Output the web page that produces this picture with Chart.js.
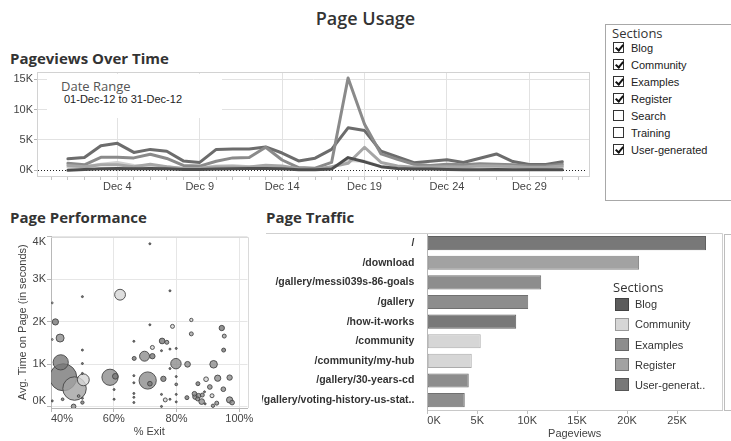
<!DOCTYPE html>
<html lang="en">
<head>
<meta charset="utf-8">
<title>Page Usage</title>
<script src="https://cdn.jsdelivr.net/npm/chart.js@4.4.1/dist/chart.umd.min.js"></script>
<style>
  html, body { margin:0; padding:0; background:#fff; }
  body { position:relative; width:731px; height:441px; overflow:hidden; font-family:"Liberation Sans", Arial, sans-serif; color:#333; }
  .abs { position:absolute; }
  canvas { position:absolute; display:block; }
  #pageTitle { left:0; top:6px; width:731px; text-align:center; font:600 18px/24px "Open Sans", sans-serif; color:#333; }
  .head { position:absolute; font:700 15px/18px "Open Sans", sans-serif; color:#333; white-space:nowrap; }
  #dateRange { left:47px; top:74px; width:175px; height:44px; background:#fff; z-index:2; }
  #dateRange .big { position:absolute; left:14px; top:3px; font:13px/18px "Open Sans", sans-serif; color:#555; white-space:nowrap; }
  #dateRange .small { position:absolute; left:17px; top:18px; font:11px/14px "Liberation Sans", Arial, sans-serif; color:#222; white-space:nowrap; }
  #filter { left:605px; top:24px; width:140px; height:177px; border:1px solid #a8a8a8; box-sizing:border-box; background:#fff; }
  #filter .ttl { position:absolute; left:6px; top:0px; font:13px/16px "Open Sans", sans-serif; color:#333; }
  .frow { position:absolute; left:0; height:16px; width:130px; font:11px/16px "Liberation Sans", Arial, sans-serif; color:#222; white-space:nowrap; }
  .cb { position:absolute; left:7px; top:2.5px; width:11px; height:11px; border:1px solid #333; box-sizing:border-box; background:#fff; }
  .cb.on::after { content:""; position:absolute; left:2.5px; top:0px; width:3px; height:6px; border:solid #111; border-width:0 2px 2px 0; transform:rotate(40deg); }
  .frow .lbl { position:absolute; left:25px; top:0; }
  #barLegend { left:613px; top:279px; width:118px; height:120px; }
  #barLegend .ttl { position:absolute; left:0; top:0; font:13px/16px "Open Sans", sans-serif; color:#333; }
  .lrow { position:absolute; left:0; height:16px; font:11px/16px "Liberation Sans", Arial, sans-serif; color:#333; white-space:nowrap; }
  .sw { position:absolute; left:2px; top:1.5px; width:14px; height:13px; box-sizing:border-box; border:1px solid #666; }
  .lrow .lbl { position:absolute; left:22px; top:0; }
</style>
</head>
<body>
<div id="pageTitle" class="abs">Page Usage</div>

<div class="head" style="left:10px; top:49px;">Pageviews Over Time</div>
<canvas id="lineChart" width="600" height="136" style="left:0; top:64px;"></canvas>
<div id="dateRange" class="abs">
  <div class="big">Date Range</div>
  <div class="small">01-Dec-12 to 31-Dec-12</div>
</div>

<div id="filter" class="abs">
  <div class="ttl">Sections</div>
</div>

<div class="head" style="left:10px; top:208px;">Page Performance</div>
<canvas id="scatterChart" width="262" height="219" style="left:0; top:222px;"></canvas>

<div class="head" style="left:266px; top:208px;">Page Traffic</div>
<canvas id="barChart" width="469" height="219" style="left:262px; top:222px;"></canvas>
<div id="barLegend" class="abs">
  <div class="ttl">Sections</div>
</div>

<script>
// ---- Daily pageviews per section, December 2012 ----
const dayNumbers = [1, 2, 3, 4, 5, 6, 7, 8, 9, 10, 11, 12, 13, 14, 15, 16, 17, 18, 19, 20, 21, 22, 23, 24, 25, 26, 27, 28, 29, 30, 31];
const dateTickDays = [4, 9, 14, 19, 24, 29];
const blogDaily      = [0, 150, 250, 300, 250, 300, 250, 150, 150, 200, 250, 300, 300, 250, 100, 100, 200, 2100, 1400, 600, 300, 200, 200, 150, 100, 100, 150, 100, 100, 100, 100];
const communityDaily = [500, 600, 1000, 1300, 800, 700, 600, 300, 400, 700, 800, 600, 700, 600, 300, 300, 500, 1600, 1500, 600, 500, 400, 400, 450, 450, 450, 500, 450, 350, 350, 450];
const examplesDaily  = [1150, 900, 2150, 2150, 2050, 2650, 1950, 800, 700, 1500, 2050, 2100, 3800, 1700, 450, 350, 1300, 15200, 7600, 2700, 1800, 1000, 800, 1000, 900, 1100, 1000, 900, 700, 700, 1000];
const registerDaily  = [800, 600, 900, 900, 600, 1000, 600, 300, 350, 600, 600, 550, 850, 700, 250, 150, 600, 1150, 3800, 1300, 700, 500, 550, 600, 550, 750, 700, 650, 450, 500, 700];
const userGenDaily   = [1900, 2100, 4050, 4450, 2950, 3450, 3150, 1550, 1300, 3450, 3500, 3500, 3850, 2850, 1550, 2000, 3450, 7000, 6550, 3150, 2200, 1250, 1500, 1750, 1300, 2000, 2700, 1450, 950, 950, 1400];
const dailyYTicks = [0, 5000, 10000, 15000];

// ---- Section filter ----
const filterSections = ['Blog', 'Community', 'Examples', 'Register', 'Search', 'Training', 'User-generated'];
const filterChecked  = [true, true, true, true, false, false, true];
const legendSections = ['Blog', 'Community', 'Examples', 'Register', 'User-generated'];
const legendLabels   = ['Blog', 'Community', 'Examples', 'Register', 'User-generat..'];

// ---- Top pages ----
const pagePaths = ['/', '/download', '/gallery/messi039s-86-goals', '/gallery', '/how-it-works', '/community', '/community/my-hub', '/gallery/30-years-cd', '/gallery/voting-history-us-stat..'];
const pageViewsTotal = [27900, 21200, 11400, 10100, 8900, 5350, 4450, 4150, 3750];
const pageSection = ['User-generated', 'Register', 'Examples', 'Examples', 'User-generated', 'Community', 'Community', 'Examples', 'Examples'];
const trafficXTicks = [0, 5000, 10000, 15000, 20000, 25000];

// ---- Page performance: % exit, avg. time on page (s), pageviews, section ----
const exitRate = [43.9, 47.5, 70.8, 58.8, 43.1, 50.3, 62.0, 79.8, 69.8, 42.9,
                  91.8, 41.4, 93.1, 96.9, 75.4, 83.5, 88.0, 60.5, 94.4, 75.8,
                  96.9, 72.3, 86.0, 47.2, 90.6, 94.9, 97.7, 85.7, 87.0, 71.5,
                  89.4, 78.7, 84.7, 84.7, 95.2, 76.9, 72.3, 95.0, 66.5, 86.8,
                  83.3, 88.2, 86.7, 91.3, 92.8, 76.4, 91.6, 50.0, 79.9, 43.7,
                  48.8, 71.5, 50.0, 77.9, 71.5, 66.4, 50.0, 77.9, 79.9, 75.2,
                  50.0, 77.9, 79.9, 50.0, 66.4, 66.4, 60.1, 66.4, 66.4, 60.1,
                  75.2, 77.9, 79.9, 79.9, 89.1, 75.2, 88.9, 40.4, 50.0, 66.4,
                  40.4, 40.4];
const avgTimeOnPage = [692, 427, 616, 692, 1043, 632, 2632, 1012, 1187, 1614,
                       997, 1993, 670, 160, 1545, 997, 121, 715, 1849, 655,
                       685, 1187, 235, 7, 464, 411, 98, 304, 258, 541,
                       646, 1888, 2039, 1712, 1660, 1514, 1393, 1331, 1135, 541,
                       213, 274, 183, 258, 84, 160, 23, 99, 525, 175,
                       251, 3829, 2587, 2724, 1925, 1537, 1331, 1354, 1370, 1317,
                       1015, 897, 708, 783, 730, 563, 404, 312, 221, 175,
                       290, 175, 290, 114, 68, 7, 350, 137, 198, 99,
                       1580, 2440];
const pointPageviews = [28000, 21200, 11400, 10100, 8900, 5400, 4500, 4200, 3800, 2450,
                        2200, 1500, 1500, 1500, 1250, 1250, 1250, 1250, 1100, 1100,
                        1100, 1100, 1100, 840, 840, 840, 840, 840, 840, 840,
                        840, 610, 430, 610, 610, 610, 610, 610, 610, 610,
                        610, 610, 610, 610, 610, 610, 430, 430, 280, 280,
                        280, 150, 150, 150, 150, 150, 150, 150, 150, 150,
                        150, 150, 150, 150, 150, 150, 150, 150, 150, 150,
                        150, 150, 150, 150, 150, 150, 150, 150, 150, 150,
                        120, 120];
const pointSection = ['User-generated', 'Register', 'Examples', 'Examples', 'User-generated', 'Community', 'Community', 'Examples', 'Examples', 'Examples',
                      'Examples', 'User-generated', 'Examples', 'Examples', 'User-generated', 'Examples', 'Examples', 'User-generated', 'User-generated', 'User-generated',
                      'Examples', 'User-generated', 'Examples', 'Examples', 'Examples', 'Examples', 'Examples', 'Examples', 'Examples', 'User-generated',
                      'Community', 'Community', 'Community', 'Register', 'Register', 'Examples', 'Community', 'User-generated', 'User-generated', 'User-generated',
                      'User-generated', 'Examples', 'Examples', 'Community', 'Examples', 'Community', 'Examples', 'User-generated', 'User-generated', 'User-generated',
                      'Examples', 'Blog', 'Blog', 'Blog', 'Blog', 'Blog', 'Blog', 'Blog', 'Blog', 'Blog',
                      'Blog', 'Blog', 'Blog', 'Blog', 'Blog', 'Blog', 'Blog', 'Blog', 'Blog', 'Blog',
                      'Blog', 'Blog', 'Blog', 'Blog', 'Blog', 'Blog', 'Blog', 'Blog', 'Blog', 'Blog',
                      'Community', 'Community'];
const exitTicks = [40, 60, 80, 100];
const timeTicks = [0, 1000, 2000, 3000, 4000];

// ---- Styling ----
const sectionColors = {
  'Blog': '#5c5c5c',
  'Community': '#d6d6d6',
  'Examples': '#8d8d8d',
  'Register': '#a2a2a2',
  'User-generated': '#787878'
};
const lineColors = {
  'Blog': '#4e4e4e',
  'Community': '#d0d0d0',
  'Examples': '#8a8a8a',
  'Register': '#a6a6a6',
  'User-generated': '#6c6c6c'
};

function withAlpha(hex, a) {
  const n = parseInt(hex.slice(1), 16);
  return `rgba(${n >> 16},${(n >> 8) & 255},${n & 255},${a})`;
}
function shade(hex, f) {
  const n = parseInt(hex.slice(1), 16);
  const c = [n >> 16, (n >> 8) & 255, n & 255].map(v => Math.round(v * f));
  return `rgb(${c[0]},${c[1]},${c[2]})`;
}
const kLabel = v => (v / 1000) + 'K';
const fixedTicks = values => scale => { scale.ticks = values.map(v => ({ value: v })); };

Chart.defaults.font.family = '"Liberation Sans", Arial, sans-serif';
Chart.defaults.font.size = 11;
Chart.defaults.color = '#444';

// Tableau-style edge labels: pull the first/last tick labels inside the pane.
function edgeLabels(cfg) {
  return {
    id: 'edgeLabels',
    beforeDraw(chart) {
      for (const id in cfg) {
        const scale = chart.scales[id];
        const items = scale.getLabelItems();
        if (!items.length) continue;
        const c = cfg[id];
        const first = items[0].options, last = items[items.length - 1].options;
        if (c.firstAlign) first.textAlign = c.firstAlign;
        if (c.firstBaseline) first.textBaseline = c.firstBaseline;
        if (c.lastBaseline) last.textBaseline = c.lastBaseline;
      }
    }
  };
}
function paneDecor(draw) {
  return {
    id: 'paneDecor',
    beforeDatasetsDraw(chart) {
      const ctx = chart.ctx;
      ctx.save();
      draw(ctx, chart.chartArea, chart);
      ctx.restore();
    }
  };
}
const px = v => Math.round(v) + 0.5;

// ---- Filter box and legend ----
const filterBox = document.getElementById('filter');
filterSections.forEach((name, i) => {
  const row = document.createElement('div');
  row.className = 'frow';
  row.style.top = (14.6 + 17.05 * i) + 'px';
  row.innerHTML = `<span class="cb${filterChecked[i] ? ' on' : ''}"></span><span class="lbl">${name}</span>`;
  filterBox.appendChild(row);
});
const legendBox = document.getElementById('barLegend');
legendSections.forEach((name, i) => {
  const row = document.createElement('div');
  row.className = 'lrow';
  row.style.top = (17.3 + 20.15 * i) + 'px';
  const c = sectionColors[name];
  row.innerHTML = `<span class="sw" style="background:${c};border-color:${shade(c, 0.72)}"></span><span class="lbl">${legendLabels[i]}</span>`;
  legendBox.appendChild(row);
});

// ---- Pageviews over time ----
const dailySeries = [
  ['Blog', blogDaily],
  ['Register', registerDaily],
  ['Examples', examplesDaily],
  ['User-generated', userGenDaily],
  ['Community', communityDaily]
];
new Chart(document.getElementById('lineChart'), {
  type: 'line',
  data: {
    datasets: dailySeries.map(([name, values]) => ({
      label: name,
      data: dayNumbers.map((d, i) => ({ x: d, y: values[i] })),
      borderColor: lineColors[name],
      borderWidth: 3,
      borderJoinStyle: 'round',
      borderCapStyle: 'round',
      pointRadius: 0,
      tension: 0,
      fill: false
    }))
  },
  options: {
    responsive: false,
    animation: false,
    devicePixelRatio: 1,
    events: [],
    layout: { padding: { left: 0, right: 10, top: 8, bottom: 0 } },
    plugins: { legend: { display: false }, tooltip: { enabled: false } },
    scales: {
      x: {
        type: 'linear',
        min: -0.875,
        max: 32.68,
        afterFit: s => { s.height = 23; },
        border: { display: false },
        grid: {
          color: c => (c.tick && dateTickDays.includes(c.tick.value)) ? '#e2e2e2' : 'rgba(0,0,0,0)',
          tickColor: '#c4c4c4',
          tickLength: 3
        },
        ticks: {
          stepSize: 1,
          autoSkip: false,
          includeBounds: false,
          maxRotation: 0,
          padding: 0,
          color: '#444',
          callback: v => dateTickDays.includes(v) ? 'Dec ' + v : ''
        }
      },
      y: {
        min: -1100,
        max: 16200,
        afterBuildTicks: fixedTicks(dailyYTicks),
        afterFit: s => { s.width = 37; },
        border: { display: false },
        grid: {
          color: c => (c.tick && c.tick.value === 0) ? 'rgba(0,0,0,0)' : '#e2e2e2',
          tickColor: '#b4b4b4',
          tickLength: 3
        },
        ticks: { padding: 1, color: '#444', callback: kLabel }
      }
    }
  },
  plugins: [paneDecor((ctx, a, chart) => {
    ctx.strokeStyle = '#d2d2d2';
    ctx.lineWidth = 1;
    ctx.strokeRect(px(a.left), px(a.top), Math.round(a.right - a.left) - 1, Math.round(a.bottom - a.top) - 1);
    const y0 = px(chart.scales.y.getPixelForValue(0));
    ctx.strokeStyle = '#222';
    ctx.setLineDash([1, 2]);
    ctx.beginPath();
    ctx.moveTo(a.left + 1, y0);
    ctx.lineTo(a.right - 3, y0);
    ctx.stroke();
  })]
});

// ---- Page performance (bubbles, largest drawn first) ----
const bubbleRadius = pv => 13.5 * Math.sqrt(pv / 28000);
const drawOrder = exitRate.map((_, i) => i).sort((a, b) => pointPageviews[b] - pointPageviews[a]);
new Chart(document.getElementById('scatterChart'), {
  type: 'bubble',
  data: {
    datasets: [{
      data: drawOrder.map(i => ({ x: exitRate[i], y: avgTimeOnPage[i], r: bubbleRadius(pointPageviews[i]) })),
      backgroundColor: drawOrder.map(i => withAlpha(sectionColors[pointSection[i]], 0.8)),
      borderColor: 'rgba(70,70,70,0.9)',
      borderWidth: 1,
      clip: 0
    }]
  },
  options: {
    responsive: false,
    animation: false,
    devicePixelRatio: 1,
    events: [],
    layout: { padding: { left: 0, right: 6, top: 10, bottom: 0 } },
    plugins: { legend: { display: false }, tooltip: { enabled: false } },
    scales: {
      x: {
        type: 'linear',
        min: 40,
        max: 102.6,
        afterBuildTicks: fixedTicks(exitTicks),
        afterFit: s => { s.height = 33; },
        border: { color: '#b8b8b8' },
        grid: { color: '#e6e6e6', tickColor: '#b8b8b8', tickLength: 4 },
        ticks: { maxRotation: 0, padding: 0, color: '#444', callback: v => v + '%' },
        title: { display: true, text: '% Exit', color: '#444', font: { size: 11 }, padding: { top: 0, bottom: 2 } }
      },
      y: {
        min: -30,
        max: 4000,
        afterBuildTicks: fixedTicks(timeTicks),
        afterFit: s => { s.width = 51; },
        border: { color: '#b8b8b8' },
        grid: { color: '#e6e6e6', tickColor: '#b8b8b8', tickLength: 4 },
        ticks: { padding: 1, color: '#444', callback: kLabel },
        title: { display: true, text: 'Avg. Time on Page (in seconds)', color: '#444', font: { size: 11 }, padding: { top: 16, bottom: 0 } }
      }
    }
  },
  plugins: [
    edgeLabels({ x: { firstAlign: 'left' }, y: { firstBaseline: 'bottom', lastBaseline: 'top' } }),
    paneDecor((ctx, a) => {
      ctx.strokeStyle = '#dadada';
      ctx.lineWidth = 1;
      ctx.beginPath();
      ctx.moveTo(a.left, px(a.top));
      ctx.lineTo(px(a.right), px(a.top));
      ctx.lineTo(px(a.right), a.bottom);
      ctx.stroke();
    })
  ]
});

// ---- Page traffic ----
new Chart(document.getElementById('barChart'), {
  type: 'bar',
  data: {
    labels: pagePaths,
    datasets: [{
      data: pageViewsTotal,
      backgroundColor: pageSection.map(s => sectionColors[s]),
      borderColor: pageSection.map(s => shade(sectionColors[s], 0.8)),
      borderWidth: 1,
      borderSkipped: false,
      barPercentage: 0.72,
      categoryPercentage: 1
    }]
  },
  options: {
    indexAxis: 'y',
    responsive: false,
    animation: false,
    devicePixelRatio: 1,
    events: [],
    layout: { padding: { left: 0, right: 9, top: 10.2, bottom: 0 } },
    plugins: { legend: { display: false }, tooltip: { enabled: false } },
    scales: {
      x: {
        type: 'linear',
        min: 0,
        max: 29500,
        afterBuildTicks: fixedTicks(trafficXTicks),
        afterFit: s => { s.height = 31; },
        border: { color: '#c8c8c8' },
        grid: { drawOnChartArea: false, tickColor: '#c0c0c0', tickLength: 4 },
        ticks: { maxRotation: 0, padding: 0, color: '#444', callback: kLabel },
        title: { display: true, text: 'Pageviews', color: '#444', font: { size: 11 }, padding: { top: 0, bottom: 0 } }
      },
      y: {
        afterFit: s => { s.width = 165.3; },
        border: { color: '#b8b8b8' },
        grid: { display: false },
        ticks: { padding: 5, color: '#333', font: { weight: 'bold', size: 10.5 }, autoSkip: false }
      }
    }
  },
  plugins: [
    edgeLabels({ x: { firstAlign: 'left' } }),
    paneDecor((ctx, a, chart) => {
      ctx.strokeStyle = '#cfcfcf';
      ctx.lineWidth = 1;
      ctx.beginPath();
      ctx.moveTo(4, px(a.top));
      ctx.lineTo(px(a.right), px(a.top));
      ctx.lineTo(px(a.right), a.bottom);
      ctx.stroke();
      ctx.strokeStyle = '#bdbdbd';
      ctx.strokeRect(px(a.right + 2), px(a.top + 1), chart.width, Math.round(a.bottom - a.top) - 1);
    })
  ]
});
</script>
</body>
</html>
